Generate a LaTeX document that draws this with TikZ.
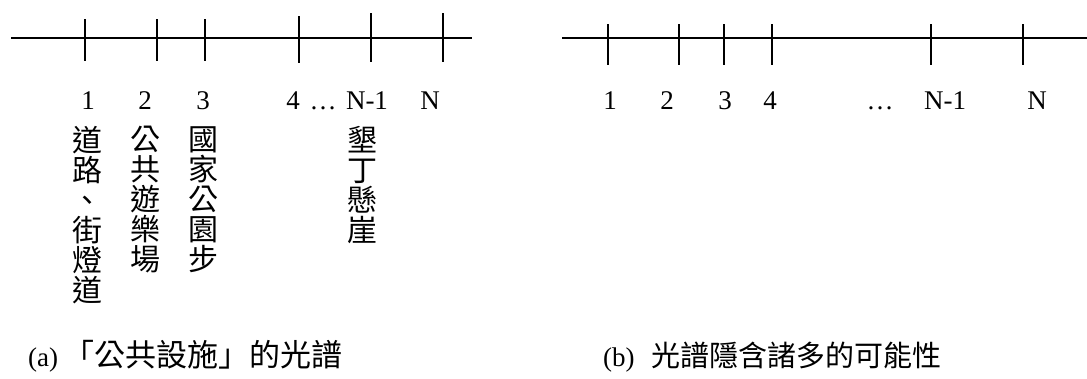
\documentclass[tikz,border=0pt]{standalone}
\usepackage{fontspec}
\setmainfont{Liberation Serif}
\newfontfamily\cjk{Noto Sans CJK TC}
\begin{document}
\begin{tikzpicture}[x=1pt,y=-1pt,
  axis/.style={line width=1.6pt},
  tickline/.style={line width=1.6pt},
  num/.style={anchor=base,inner sep=0pt,font=\fontsize{27}{28}\selectfont},
  vtext/.style={anchor=north,inner sep=0pt,align=center,font=\cjk\fontsize{30}{30}\selectfont},
  captext/.style={anchor=base west,inner sep=0pt,font=\fontsize{27}{30}\selectfont}]
\useasboundingbox (0,0) rectangle (1087,378);
% (a) axis
\coordinate (aL) at (11,38);
\coordinate (aR) at (472,38);
\draw[axis] (aL) -- (aR);
\draw[tickline] (85,19) -- (85,61);
\draw[tickline] (157,19) -- (157,61);
\draw[tickline] (205,19) -- (205,61);
\draw[tickline] (299,16) -- (299,63);
\draw[tickline] (371,13) -- (371,62);
\draw[tickline] (443,13) -- (443,62);
\node[num] (a1) at (88,109) {1};
\node[num] (a2) at (145,109) {2};
\node[num] (a3) at (203,109) {3};
\node[num] (a4) at (293,109) {4};
\node[num] (adots) at (323,109) {\ldots};
\node[num] (aN1) at (367,109) {N-1};
\node[num] (aN) at (430,109) {N};
\node[vtext] (t1) at (87,126) {道\\路\\、\\街\\燈\\道};
\node[vtext] (t2) at (145,126) {公\\共\\遊\\樂\\場};
\node[vtext] (t3) at (203,126) {國\\家\\公\\園\\步};
\node[vtext] (t4) at (362,126) {墾\\丁\\懸\\崖};
\node[captext] (capa) at (28,366) {(a)\hspace{5pt}{\cjk\fontsize{31}{30}\selectfont「公共設施」的光譜}};
% (b) axis
\coordinate (bL) at (562,38);
\coordinate (bR) at (1087,38);
\draw[axis] (bL) -- (bR);
\draw[tickline] (608,24) -- (608,65);
\draw[tickline] (679,24) -- (679,65);
\draw[tickline] (724,24) -- (724,65);
\draw[tickline] (772,24) -- (772,65);
\draw[tickline] (931,24) -- (931,65);
\draw[tickline] (1023,24) -- (1023,65);
\node[num] (b1) at (610,109) {1};
\node[num] (b2) at (667,109) {2};
\node[num] (b3) at (725,109) {3};
\node[num] (b4) at (770,109) {4};
\node[num] (bdots) at (880,109) {\ldots};
\node[num] (bN1) at (945,109) {N-1};
\node[num] (bN) at (1037,109) {N};
\node[captext] (capb) at (603,366) {(b)\hspace{17pt}{\cjk\fontsize{29}{30}\selectfont 光譜隱含諸多的可能性}};
\end{tikzpicture}
\end{document}
